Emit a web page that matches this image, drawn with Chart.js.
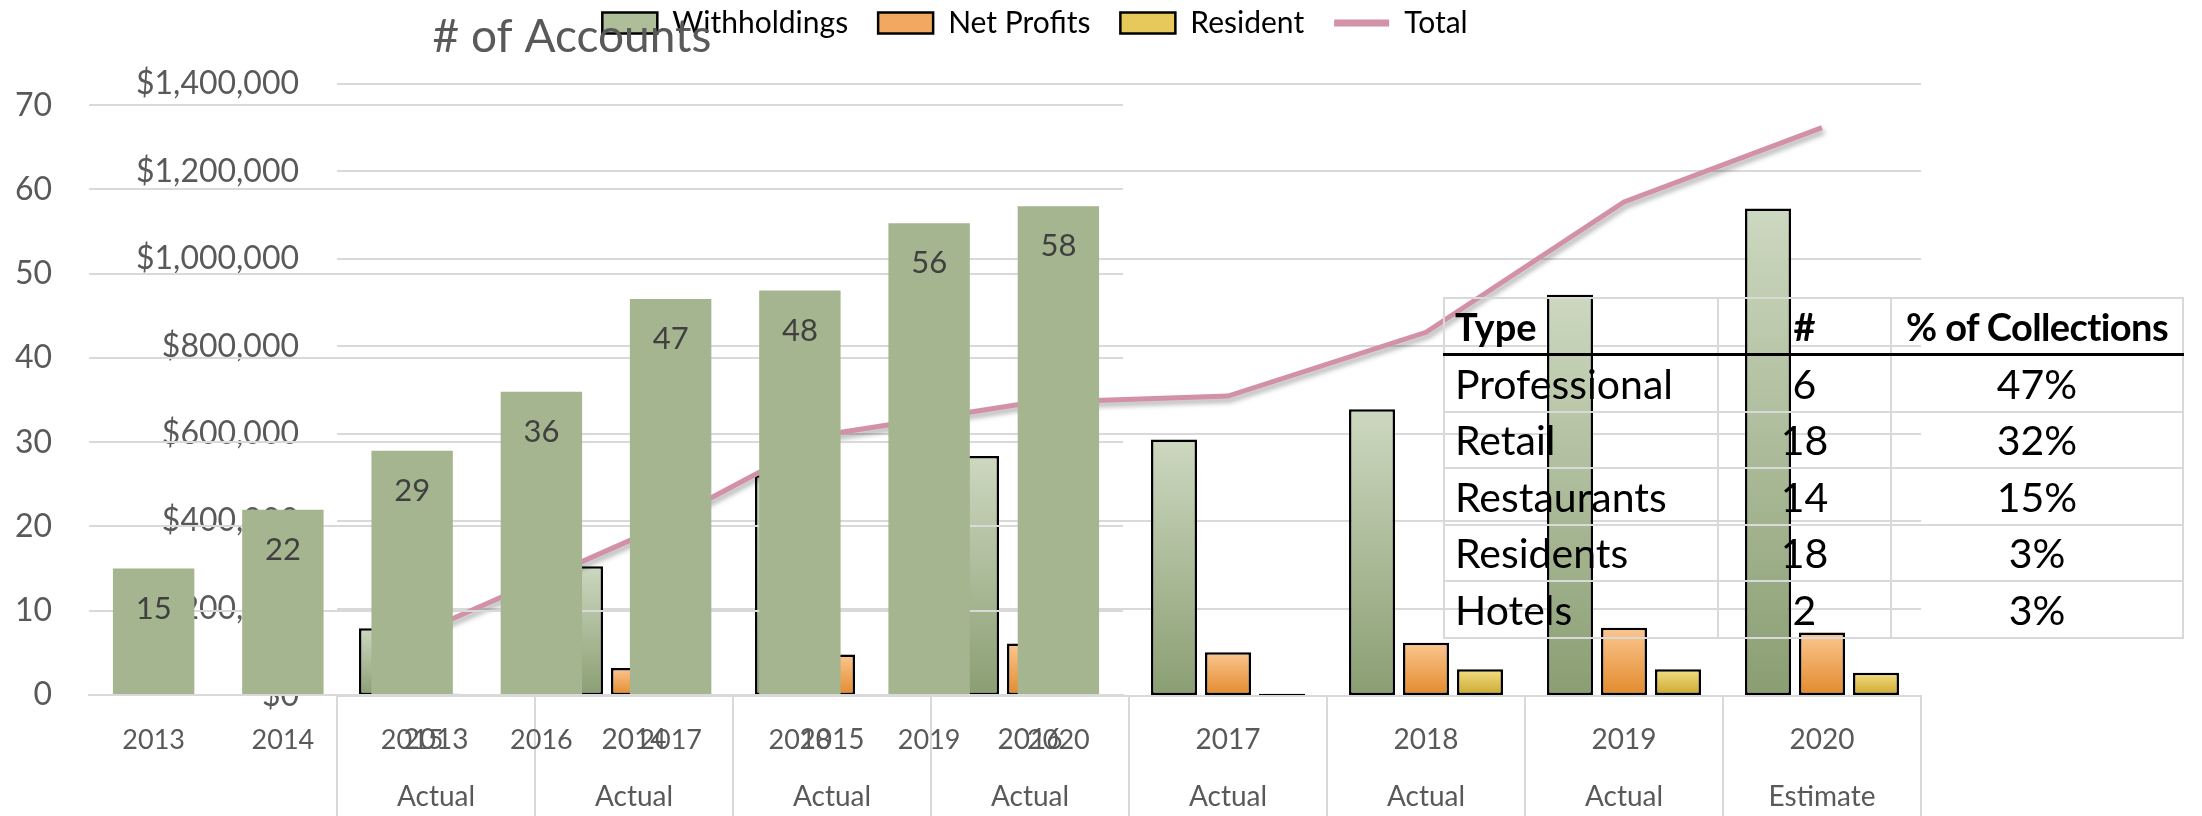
<!DOCTYPE html>
<html>
<head>
<meta charset="utf-8">
<title># of Accounts and Collections</title>
<script src="https://cdn.jsdelivr.net/npm/chart.js@4.4.1/dist/chart.umd.min.js"></script>
<style>
  html, body { margin: 0; padding: 0; background: #fff; }
  #board { position: relative; width: 2202px; height: 816px; overflow: hidden; font-family: Lato, sans-serif; }
  #collectionsChart, #accountsChart { position: absolute; left: 0; top: 0; }
  #typeTable { position: absolute; left: 1443px; top: 297px; border-collapse: collapse; table-layout: fixed;
    width: 739px; color: #000; font-family: Lato, sans-serif; font-size: 41px; line-height: 1; }
  #typeTable td, #typeTable th { border: 2px solid #d9d9d9; padding: 0 10px; height: 54.5px; white-space: nowrap; overflow: visible; }
  #typeTable th { font-weight: bold; font-size: 38px; border-bottom: 3px solid #000; height: 54px; }
  #typeTable th.share { padding: 0; letter-spacing: -0.6px; }
  #typeTable .name { text-align: left; }
  #typeTable .count { text-align: center; }
  #typeTable .share { text-align: center; }
</style>
</head>
<body>
<div id="board">
  <canvas id="collectionsChart" width="2070" height="816"></canvas>
  <canvas id="accountsChart" width="1144" height="816"></canvas>
  <table id="typeTable">
    <colgroup><col style="width:274px"><col style="width:173px"><col style="width:292px"></colgroup>
    <tr><th class="name">Type</th><th class="count">#</th><th class="share">% of Collections</th></tr>
  </table>
</div>
<script>
const years = ['2013', '2014', '2015', '2016', '2017', '2018', '2019', '2020'];
const phases = ['Actual', 'Actual', 'Actual', 'Actual', 'Actual', 'Actual', 'Actual', 'Estimate'];

// # of accounts (front chart)
const accounts = [15, 22, 29, 36, 47, 48, 56, 58];

// collections in dollars (back chart)
const withholdings = [155000, 297000, 505000, 549000, 587000, 656000, 918000, 1115000];
const netProfits = [5000, 64000, 95000, 120000, 100000, 122000, 156000, 145000];
const resident = [1000, 2000, 2000, 4000, 5000, 61000, 61000, 53000];
const total = [160000, 360000, 600000, 671000, 686000, 832000, 1130000, 1300000];

// table
const types = ['Professional', 'Retail', 'Restaurants', 'Residents', 'Hotels'];
const typeCounts = [6, 18, 14, 18, 2];
const typeShares = ['47%', '32%', '15%', '3%', '3%'];

const TEXT = '#595959';
const GRID = '#d9d9d9';
const PINK = '#d291a6';

Chart.defaults.font.family = 'Lato, sans-serif';

function barGradient(context, top, bottom) {
    const chart = context.chart;
    const y = chart.scales.y;
    if (!chart.chartArea || !y || context.raw === undefined) return bottom;
    const y0 = y.getPixelForValue(context.raw);
    const y1 = y.getPixelForValue(0);
    if (y1 - y0 < 1) return bottom;
    const g = chart.ctx.createLinearGradient(0, y0, 0, y1);
    g.addColorStop(0, top);
    g.addColorStop(1, bottom);
    return g;
}

const lineShadow = {
    id: 'lineShadow',
    beforeDatasetDraw(chart, args) {
        if (args.meta.type !== 'line') return;
        const ctx = chart.ctx;
        ctx.save();
        ctx.shadowColor = 'rgba(0, 0, 0, 0.3)';
        ctx.shadowBlur = 5;
        ctx.shadowOffsetX = 2;
        ctx.shadowOffsetY = 4;
    },
    afterDatasetDraw(chart, args) {
        if (args.meta.type !== 'line') return;
        chart.ctx.restore();
    }
};

const barValueLabels = {
    id: 'barValueLabels',
    afterDatasetsDraw(chart) {
        const ctx = chart.ctx;
        const meta = chart.getDatasetMeta(0);
        ctx.save();
        ctx.font = '31px Lato, sans-serif';
        ctx.fillStyle = '#404040';
        ctx.textAlign = 'center';
        ctx.textBaseline = 'middle';
        meta.data.forEach((bar, i) => {
            ctx.fillText(String(chart.data.datasets[0].data[i]), bar.x, bar.y + 40);
        });
        ctx.restore();
    }
};

// back chart: collections by type
new Chart(document.getElementById('collectionsChart'), {
    type: 'bar',
    data: {
        labels: years.map((y, i) => [y, phases[i]]),
        datasets: [
            {
                label: 'Withholdings', data: withholdings, order: 1,
                backgroundColor: c => barGradient(c, '#cdd8c0', '#8a9e72'),
                borderColor: '#000', borderWidth: 2.5, borderSkipped: false
            },
            {
                label: 'Net Profits', data: netProfits, order: 1,
                backgroundColor: c => barGradient(c, '#fbc790', '#e2892b'),
                borderColor: '#000', borderWidth: 2.5, borderSkipped: false
            },
            {
                label: 'Resident', data: resident, order: 1,
                backgroundColor: c => barGradient(c, '#f4df84', '#c9a52c'),
                borderColor: '#000', borderWidth: 2.5, borderSkipped: false
            },
            {
                type: 'line', label: 'Total', data: total, order: 0,
                borderColor: PINK, borderWidth: 5, pointRadius: 0, tension: 0, fill: false
            }
        ]
    },
    options: {
        responsive: false,
        animation: false,
        devicePixelRatio: 1,
        layout: { padding: { top: -22, left: 0, right: 0, bottom: 0 } },
        datasets: { bar: { categoryPercentage: 0.818, barPercentage: 0.852 } },
        plugins: {
            tooltip: { enabled: false },
            legend: {
                position: 'top',
                labels: {
                    color: TEXT,
                    font: { size: 30 },
                    padding: 30,
                    usePointStyle: true,
                    pointStyleWidth: 55,
                    boxHeight: 21,
                    generateLabels: () => [
                        { text: 'Withholdings', fillStyle: '#adbe98', strokeStyle: '#000', lineWidth: 2.5, pointStyle: 'rect', hidden: false, datasetIndex: 0 },
                        { text: 'Net Profits', fillStyle: '#f2a860', strokeStyle: '#000', lineWidth: 2.5, pointStyle: 'rect', hidden: false, datasetIndex: 1 },
                        { text: 'Resident', fillStyle: '#e6c95a', strokeStyle: '#000', lineWidth: 2.5, pointStyle: 'rect', hidden: false, datasetIndex: 2 },
                        { text: 'Total', fillStyle: PINK, strokeStyle: PINK, lineWidth: 7, pointStyle: 'line', hidden: false, datasetIndex: 3 }
                    ]
                }
            },
            // empty spacer between legend and plot
            title: { display: true, text: '', weight: 500, font: { size: 10, lineHeight: 1.2 }, padding: { top: 0, bottom: 24 } }
        },
        scales: {
            x: {
                grid: { offset: true, drawOnChartArea: false, drawTicks: true, tickLength: 120, color: GRID, lineWidth: 2 },
                border: { display: true, color: GRID, width: 2 },
                ticks: {
                    color: TEXT, font: { size: 28, lineHeight: 2.04 },
                    padding: -105, maxRotation: 0, autoSkip: false
                },
                afterFit: s => { s.height = 120; }
            },
            y: {
                min: 0, max: 1400000,
                ticks: {
                    stepSize: 200000, color: TEXT, font: { size: 32 }, padding: 38,
                    callback: v => '$' + v.toLocaleString('en-US')
                },
                grid: { color: GRID, lineWidth: 2, drawTicks: false },
                border: { display: false },
                afterFit: s => { s.width = 337; }
            },
            pad: {
                type: 'linear', position: 'right', display: true,
                ticks: { display: false }, grid: { display: false }, border: { display: false },
                afterFit: s => { s.width = 149; }
            }
        }
    },
    plugins: [lineShadow]
});

// front chart: # of accounts
new Chart(document.getElementById('accountsChart'), {
    type: 'bar',
    data: {
        labels: years,
        datasets: [{
            label: '# of Accounts', data: accounts,
            backgroundColor: '#a5b58f', categoryPercentage: 1, barPercentage: 0.63
        }]
    },
    options: {
        responsive: false,
        animation: false,
        devicePixelRatio: 1,
        plugins: {
            tooltip: { enabled: false },
            legend: { display: false },
            title: {
                display: true, text: '# of Accounts', color: TEXT,
                font: { size: 46, weight: 'normal', lineHeight: 1.2 },
                padding: { top: 10, bottom: 40 }
            }
        },
        scales: {
            x: {
                grid: { drawOnChartArea: false, drawTicks: false },
                border: { display: true, color: GRID, width: 2 },
                ticks: { color: TEXT, font: { size: 27 }, padding: 29, maxRotation: 0, autoSkip: false },
                afterFit: s => { s.height = 121; }
            },
            y: {
                min: 0, max: 70,
                ticks: { stepSize: 10, color: TEXT, font: { size: 32 }, padding: 37 },
                grid: { color: GRID, lineWidth: 2, drawTicks: false },
                border: { display: false },
                afterFit: s => { s.width = 89; }
            },
            pad: {
                type: 'linear', position: 'right', display: true,
                ticks: { display: false }, grid: { display: false }, border: { display: false },
                afterFit: s => { s.width = 21; }
            }
        }
    },
    plugins: [barValueLabels]
});

const table = document.getElementById('typeTable');
types.forEach((t, i) => {
    const tr = table.insertRow();
    const cells = [[t, 'name'], [typeCounts[i], 'count'], [typeShares[i], 'share']];
    cells.forEach(([text, cls]) => {
        const td = tr.insertCell();
        td.className = cls;
        td.textContent = text;
    });
});
</script>
</body>
</html>
